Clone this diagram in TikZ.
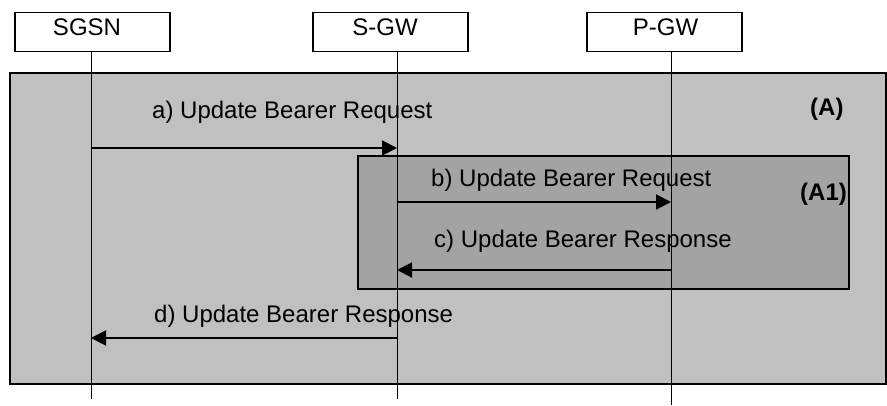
\documentclass[tikz,border=0pt]{standalone}
\usepackage{fontspec}
\setmainfont{Liberation Sans}
\usetikzlibrary{arrows.meta}
\definecolor{outerfill}{RGB}{192,192,192}
\definecolor{innerfill}{RGB}{163,163,163}
\begin{document}
\begin{tikzpicture}[x=1pt,y=-1pt,
  hdr/.style={draw,line width=1.2pt,fill=white,minimum width=155pt,minimum height=39pt,
    inner sep=0pt,anchor=north},
  htxt/.style={inner sep=0pt,anchor=base,font=\fontsize{24}{28}\selectfont},
  life/.style={line width=0.8pt},
  msg/.style={line width=2pt,-{Triangle[length=15pt,width=15pt]}},
  lbl/.style={font=\fontsize{24}{28}\selectfont,inner sep=0pt,anchor=base west},
  tag/.style={font=\bfseries\fontsize{24}{28}\selectfont,inner sep=0pt,anchor=base west},
  frame/.style={draw,line width=1.5pt}]
\useasboundingbox (0,0) rectangle (887,405);
% frames
\draw[frame,fill=outerfill] (10,73) rectangle (886,384);
\draw[frame,fill=innerfill] (358,156) rectangle (849,289);
% headers
\node[hdr] (sgsn) at (92.5,12) {};
\node[hdr] (sgw) at (390.5,12) {};
\node[hdr] (pgw) at (664.5,12) {};
\node[htxt] (sgsnT) at (87,35) {SGSN};
\node[htxt] (sgwT) at (385,35) {S-GW};
\node[htxt] (pgwT) at (665.5,35) {P-GW};
% lifelines
\coordinate (s1) at (91,51);  \coordinate (e1) at (91,399);
\coordinate (s2) at (397,51); \coordinate (e2) at (397,399);
\coordinate (s3) at (671,51); \coordinate (e3) at (671,405);
\draw[life] (s1) -- (e1);
\draw[life] (s2) -- (e2);
\draw[life] (s3) -- (e3);
% messages
\coordinate (a1) at (91,148);  \coordinate (a2) at (397,148);
\coordinate (b1) at (397,202); \coordinate (b2) at (671,202);
\coordinate (c1) at (671,270); \coordinate (c2) at (397,270);
\coordinate (d1) at (397,338); \coordinate (d2) at (91,338);
\draw[msg] (a1) -- (a2);
\draw[msg] (b1) -- (b2);
\draw[msg] (c1) -- (c2);
\draw[msg] (d1) -- (d2);
% labels
\node[lbl] (la) at (152,118) {a) Update Bearer Request};
\node[lbl] (lb) at (431,186) {b) Update Bearer Request};
\node[lbl] (lc) at (434,247) {c) Update Bearer Response};
\node[lbl] (ld) at (154,322) {d) Update Bearer Response};
\node[tag] (tA) at (810,115) {(A)};
\node[tag] (tA1) at (800,200) {(A1)};
\end{tikzpicture}
\end{document}
